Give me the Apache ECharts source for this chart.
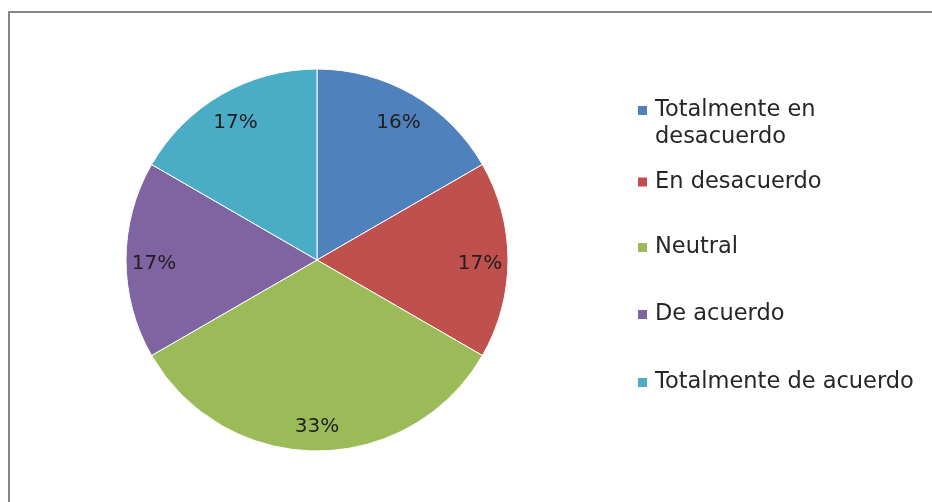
<!DOCTYPE html>
<html>
<head>
<meta charset="utf-8">
<script src="https://cdn.jsdelivr.net/npm/echarts@6/dist/echarts.min.js"></script>
<style>
  html, body { margin: 0; padding: 0; background: #fff; }
  #wrap { position: relative; width: 932px; height: 502px; overflow: hidden; }
  #frame { position: absolute; left: 8px; top: 11px; right: -4px; bottom: -4px;
           border-top: 2px solid #868686; border-left: 2px solid #868686; }
  #chart { position: absolute; left: 0; top: 0; width: 932px; height: 502px; }
</style>
</head>
<body>
<div id="wrap">
  <div id="frame"></div>
  <div id="chart"></div>
</div>
<script>
// respuestas de la encuesta
var categories = ['Totalmente en desacuerdo', 'En desacuerdo', 'Neutral', 'De acuerdo', 'Totalmente de acuerdo']
var responses = [1, 1, 2, 1, 1]          // tamaño de cada porcion (sextos)
var percentages = [16, 17, 33, 17, 17]   // etiquetas tal como se muestran
var colors = ['#4F81BD', '#C0504D', '#9BBB59', '#8064A2', '#4BACC6']

var legendTops = [70, 168.5, 234, 301, 369]
var font = 'DejaVu Sans'

var pieData = categories.map(function (name, i) {
  return { name: name, value: responses[i], itemStyle: { color: colors[i] } }
})

var legends = categories.map(function (name, i) {
  return {
    data: [name],
    left: 636,
    top: legendTops[i],
    padding: 0,
    itemWidth: 11,
    itemHeight: 11,
    icon: 'rect',
    selectedMode: false,
    formatter: function (n) {
      // linea en blanco arriba para que el cuadro quede junto a la primera linea
      return n === 'Totalmente en desacuerdo' ? ' \nTotalmente en\ndesacuerdo' : n
    },
    textStyle: {
      fontFamily: font,
      fontSize: 22.5,
      color: '#262626',
      lineHeight: 27,
      padding: [0, 0, 0, 2]
    }
  }
})

var chart = echarts.init(document.getElementById('chart'))
chart.setOption({
  animation: false,
  legend: legends,
  series: [{
    type: 'pie',
    center: [317, 260],
    radius: 191,
    startAngle: 90,
    clockwise: true,
    silent: true,
    label: { show: false },
    labelLine: { show: false },
    itemStyle: { borderColor: '#ffffff', borderWidth: 1 },
    data: pieData
  }, {
    // capa solo para las etiquetas, mas cerca del borde
    type: 'pie',
    center: [317, 260],
    radius: [124, 196],
    startAngle: 90,
    clockwise: true,
    silent: true,
    itemStyle: { color: 'rgba(0,0,0,0)' },
    label: {
      show: true,
      position: 'inside',
      formatter: function (p) {
        return percentages[p.dataIndex] + '%'
      },
      fontFamily: font,
      fontSize: 20,
      color: '#1f1f1f',
      offset: [0, 4]
    },
    labelLine: { show: false },
    data: categories.map(function (name, i) {
      return { name: name, value: responses[i] }
    })
  }]
})
</script>
</body>
</html>
